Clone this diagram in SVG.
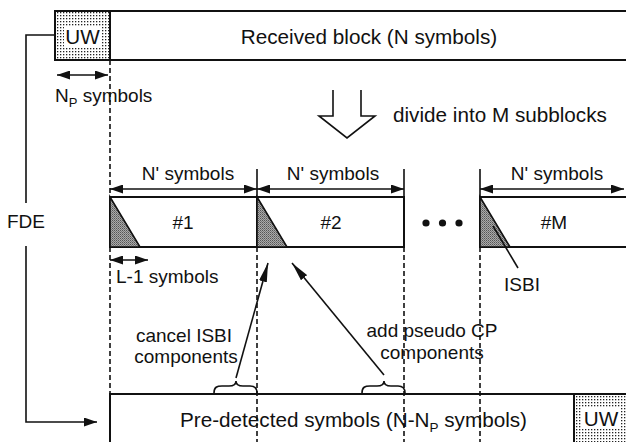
<svg xmlns="http://www.w3.org/2000/svg" width="626" height="442" viewBox="0 0 626 442">
<style>
text{font-family:"Liberation Sans",Arial,sans-serif;fill:#111}
.big{font-size:20.7px}
.sm{font-size:19px}
.box{fill:#fff;stroke:#111;stroke-width:2}
.ln{fill:none;stroke:#111;stroke-width:1.6}
.dash{fill:none;stroke:#111;stroke-width:1.6;stroke-dasharray:5 3}
.tri{fill:url(#hatch);stroke:#111;stroke-width:1.6}
.uw{fill:url(#stip);stroke:#111;stroke-width:2}
</style>
<defs>
<pattern id="stip" width="3" height="3" patternUnits="userSpaceOnUse">
<rect width="3" height="3" fill="#fff"/>
<rect width="1.3" height="1.3" fill="#222"/>
</pattern>
<pattern id="hatch" width="2" height="2" patternUnits="userSpaceOnUse">
<rect width="2" height="2" fill="#aaa"/>
<rect width="1" height="1" fill="#555"/>
<rect x="1" y="1" width="1" height="1" fill="#777"/>
</pattern>
<marker id="ah" viewBox="0 0 13 9" refX="13" refY="4.5" markerWidth="13" markerHeight="9" markerUnits="userSpaceOnUse" orient="auto-start-reverse">
<path d="M0,0 L13,4.5 L0,9 z" fill="#111"/>
</marker>
<marker id="ahl" viewBox="0 0 19 8" refX="19" refY="4" markerWidth="19" markerHeight="8" markerUnits="userSpaceOnUse" orient="auto">
<path d="M0,0 L19,4 L0,8 z" fill="#111"/>
</marker>
</defs>

<g id="received-block">
<rect class="box" x="55" y="11" width="580" height="49"/>
<text class="big" x="369" y="44" text-anchor="middle">Received block (N symbols)</text>
</g>
<g id="uw-top">
<rect class="uw" x="55" y="11" width="55" height="49"/>
<rect x="64" y="26" width="37" height="22" fill="#fff"/>
<text class="big" x="82.5" y="44" text-anchor="middle">UW</text>
</g>

<g id="subblock-1">
<rect class="box" x="110" y="197" width="147" height="50"/>
<path class="tri" d="M110,197 L140,247 L110,247 z"/>
<text class="sm" x="183" y="229" text-anchor="middle">#1</text>
</g>
<g id="subblock-2">
<rect class="box" x="257" y="197" width="147" height="50"/>
<path class="tri" d="M257,197 L287,247 L257,247 z"/>
<text class="sm" x="331" y="229" text-anchor="middle">#2</text>
</g>
<g id="ellipsis">
<circle cx="426" cy="223" r="3.6" fill="#111"/>
<circle cx="442.5" cy="223" r="3.6" fill="#111"/>
<circle cx="459" cy="223" r="3.6" fill="#111"/>
</g>
<g id="subblock-M">
<rect class="box" x="480" y="197" width="160" height="50"/>
<path class="tri" d="M480,197 L510,247 L480,247 z"/>
<text class="sm" x="554" y="229" text-anchor="middle">#M</text>
</g>

<g id="predetected">
<rect class="box" x="110" y="394" width="530" height="60"/>
<text class="big" x="180" y="427">Pre-detected symbols (N-N<tspan font-size="13.5" dy="5">P</tspan><tspan dy="-5"> symbols)</tspan></text>
</g>
<g id="uw-bottom">
<rect class="uw" x="574" y="394" width="60" height="60"/>
<rect x="582" y="407" width="38" height="22" fill="#fff"/>
<text class="big" x="601" y="426" text-anchor="middle">UW</text>
</g>

<g id="connectors">
<path class="dash" d="M110,60 V197 M110,247 V394 M257,247 V442 M404,247 V442 M480,247 V442"/>
<path class="ln" d="M257,169 V197 M404,169 V197 M480,169 V197"/>
<line class="ln" x1="110" y1="189" x2="257" y2="189" marker-start="url(#ah)" marker-end="url(#ah)"/>
<line class="ln" x1="257" y1="189" x2="404" y2="189" marker-start="url(#ah)" marker-end="url(#ah)"/>
<line class="ln" x1="480" y1="189" x2="624" y2="189" marker-start="url(#ah)" marker-end="url(#ah)"/>
<line class="ln" x1="57" y1="75" x2="108" y2="75" marker-start="url(#ah)" marker-end="url(#ah)"/>
<line class="ln" x1="110" y1="260" x2="148" y2="260" marker-start="url(#ah)" marker-end="url(#ah)"/>
<path class="ln" d="M55,35 H26 V203 M26,246 V422 H97" marker-end="url(#ah)"/>
<path class="ln" d="M333,90 V116 H319 L347,138 L375,116 H361 V90"/>
<line class="ln" x1="493" y1="226" x2="518" y2="268"/>
<path class="ln" d="M214,393 C214,387 217,386 222,386 L229,386 C234,386 236,384 236,381 C236,384 238,386 243,386 L250,386 C255,386 257,388 257,393"/>
<path class="ln" d="M362,393 C362,387 365,386 370,386 L377,386 C382,386 384,384 384,381 C384,384 386,386 391,386 L398,386 C403,386 405,388 405,393"/>
<line class="ln" x1="236" y1="378" x2="268" y2="263" marker-end="url(#ahl)"/>
<line class="ln" x1="384" y1="375" x2="292" y2="263" marker-end="url(#ahl)"/>
</g>

<g id="labels">
<text class="sm" x="55" y="102">N<tspan font-size="13" dy="5">P</tspan><tspan dy="-5"> symbols</tspan></text>
<text class="big" x="393" y="122">divide into M subblocks</text>
<text class="sm" x="188" y="180" text-anchor="middle">N' symbols</text>
<text class="sm" x="333" y="180" text-anchor="middle">N' symbols</text>
<text class="sm" x="557" y="180" text-anchor="middle">N' symbols</text>
<text class="sm" x="116" y="283">L-1 symbols</text>
<text class="sm" x="522" y="291" text-anchor="middle">ISBI</text>
<text class="sm" x="26" y="228" text-anchor="middle">FDE</text>
<text class="sm" x="184" y="342" text-anchor="middle">cancel ISBI</text>
<text class="sm" x="186" y="363" text-anchor="middle">components</text>
<text class="sm" x="432" y="337" text-anchor="middle">add pseudo CP</text>
<text class="sm" x="432" y="359" text-anchor="middle">components</text>
</g>
</svg>
